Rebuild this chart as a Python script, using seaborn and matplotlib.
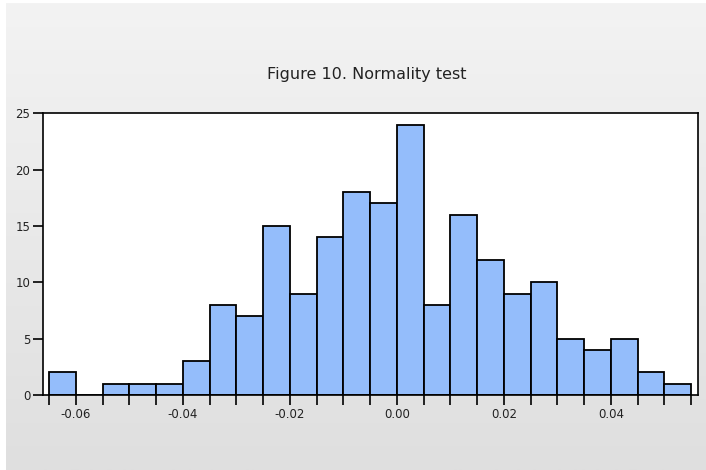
import numpy as np
import pandas as pd
import matplotlib
matplotlib.use("Agg")
import matplotlib.pyplot as plt
from matplotlib.ticker import MultipleLocator, FormatStrFormatter
import seaborn as sns

# histogram bins (left edges) and counts
bin_left = [-0.065, -0.060, -0.055, -0.050, -0.045, -0.040, -0.035, -0.030,
            -0.025, -0.020, -0.015, -0.010, -0.005, 0.000, 0.005, 0.010,
            0.015, 0.020, 0.025, 0.030, 0.035, 0.040, 0.045, 0.050]
counts = [2, 0, 1, 1, 1, 3, 8, 7,
          15, 9, 14, 18, 17, 24, 8, 16,
          12, 9, 10, 5, 4, 5, 2, 1]
bin_width = 0.005
title = "Figure 10. Normality test"

df = pd.DataFrame({"resid": np.array(bin_left) + bin_width / 2, "n": counts})

sns.set_style("white")
plt.rcParams["font.family"] = ["DejaVu Sans"]

fig = plt.figure(figsize=(7.06, 4.70), dpi=100)
fig.patch.set_facecolor("white")

# grey gradient background of the screenshot
bg = fig.add_axes([6 / 706, 0, 1 - 6 / 706, 1 - 3 / 470], zorder=-10)
grad = np.linspace(0, 1, 256).reshape(-1, 1)
cmap = matplotlib.colors.LinearSegmentedColormap.from_list("g", ["#f3f3f3", "#dfdfdf"])
bg.imshow(grad, aspect="auto", cmap=cmap, extent=[0, 1, 1, 0])
bg.set_axis_off()

ax = fig.add_axes([42.7 / 706, 75 / 470, (698 - 42.7) / 706, (395 - 113.3) / 470])
ax.set_facecolor("white")
sns.histplot(data=df, x="resid", weights="n", binwidth=bin_width,
             binrange=(bin_left[0], bin_left[-1] + bin_width), ax=ax,
             color="#94bdfb", alpha=1, edgecolor="black", linewidth=1.3)

ax.set_xlim(-0.0662, 0.0563)
ax.set_ylim(0, 25)
ax.set_xlabel("")
ax.set_ylabel("")
ax.xaxis.set_major_locator(MultipleLocator(0.02))
ax.xaxis.set_minor_locator(MultipleLocator(0.005))
ax.xaxis.set_major_formatter(FormatStrFormatter("%.2f"))
ax.yaxis.set_major_locator(MultipleLocator(5))
ax.tick_params(axis="both", which="both", direction="out", length=7, width=1.2,
               color="black", labelsize=8.5, pad=2, labelcolor="#222222",
               bottom=True, left=True, top=False, right=False)
for s in ax.spines.values():
    s.set_linewidth(1.2)
    s.set_color("black")

fig.text(367 / 706, 1 - 75 / 470, title, ha="center", va="center",
         fontsize=11.5, color="#222222")

fig.savefig("out.png", dpi=100)
